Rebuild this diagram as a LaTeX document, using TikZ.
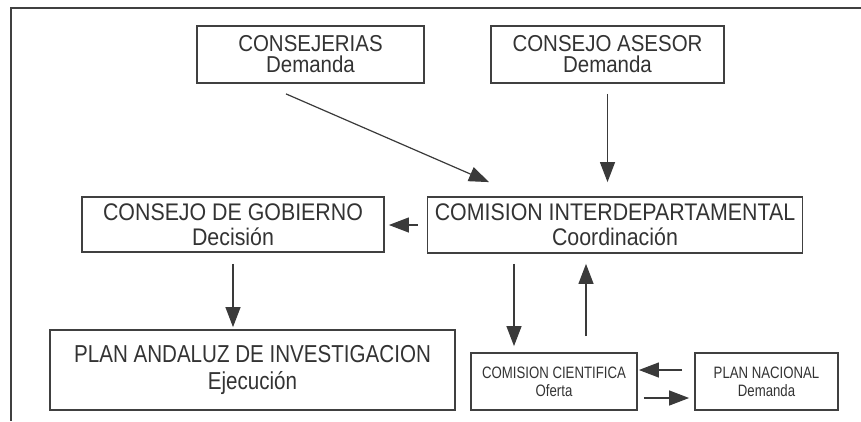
\documentclass[tikz,border=0pt]{standalone}
\usepackage{fontspec}
\setmainfont{Liberation Sans}
\newfontfamily\fontA[FakeStretch=0.89]{Liberation Sans}
\newfontfamily\fontB[FakeStretch=0.84]{Liberation Sans}
\newfontfamily\fontC[FakeStretch=0.80]{Liberation Sans}
\usetikzlibrary{arrows.meta,calc}
\definecolor{ink}{HTML}{3A3A3A}
\definecolor{edge}{HTML}{404040}
\definecolor{txt}{HTML}{333333}
\begin{document}
\begin{tikzpicture}[x=1pt,y=-1pt,
  box/.style={draw=edge, line width=1.8pt, inner sep=0pt, align=center, text=txt},
  bigbox/.style={box, font=\fontA\fontsize{23}{21}\selectfont},
  midbox/.style={box, font=\fontA\fontsize{24}{25}\selectfont},
  planbox/.style={box, font=\fontB\fontsize{24.5}{27}\selectfont},
  smallbox/.style={box, font=\fontC\fontsize{16.5}{18}\selectfont},
  conn/.style={draw=ink, line width=1.2pt, -{Triangle[length=20pt,width=15pt]}, color=ink}
]
\useasboundingbox (0,0) rectangle (861,421);
\fill[white] (0,0) rectangle (861,421);
\draw[edge, line width=1.6pt] (861,8) -- (11,8) -- (11,421);

\node[bigbox, minimum width=227pt, minimum height=57pt] (cj) at (310.5,54.5) {CONSEJERIAS\\Demanda};
\node[bigbox, minimum width=233pt, minimum height=57pt] (ca) at (607.5,54.5) {CONSEJO ASESOR\\Demanda};
\node[midbox, minimum width=302pt, minimum height=55pt] (gob) at (233,224.5) {CONSEJO DE GOBIERNO\\Decisión};
\node[midbox, minimum width=375pt, minimum height=56pt] (ci) at (615,225) {COMISION INTERDEPARTAMENTAL\\Coordinación};
\node[planbox, minimum width=405pt, minimum height=80pt] (pa) at (252.5,370) {PLAN ANDALUZ DE INVESTIGACION\\Ejecución};
\node[smallbox, minimum width=166pt, minimum height=57pt] (cc) at (554,381.5) {COMISION CIENTIFICA\\Oferta};
\node[smallbox, minimum width=143pt, minimum height=57pt] (pn) at (766.5,381.5) {PLAN NACIONAL\\Demanda};

\draw[conn] ($(cj.south)+(-24.5,10)$) -- ($(ci.north)+(-126,-14)$);
\draw[conn] ($(ca.south)+(0,10)$) -- ($(ca.south |- ci.north)+(0,-14)$);
\draw[conn] ($(ci.west)+(-9,0)$) -- ($(gob.east)+(4,0.5)$);
\draw[conn] ($(gob.south)+(0,11)$) -- ($(gob.south |- pa.north)+(0,-2)$);
\draw[conn] ($(ci.south)+(-101,10)$) -- ($(ci.south |- cc.north)+(-101,-6)$);
\draw[conn] ($(ci.south |- cc.north)+(-29,-16)$) -- ($(ci.south)+(-29,10)$);
\draw[conn] ($(pn.west)+(-12,-11.5)$) -- ($(cc.east)+(1,-11.5)$);
\draw[conn] ($(cc.east)+(6,16.5)$) -- ($(pn.west)+(-5,16.5)$);
\end{tikzpicture}
\end{document}
